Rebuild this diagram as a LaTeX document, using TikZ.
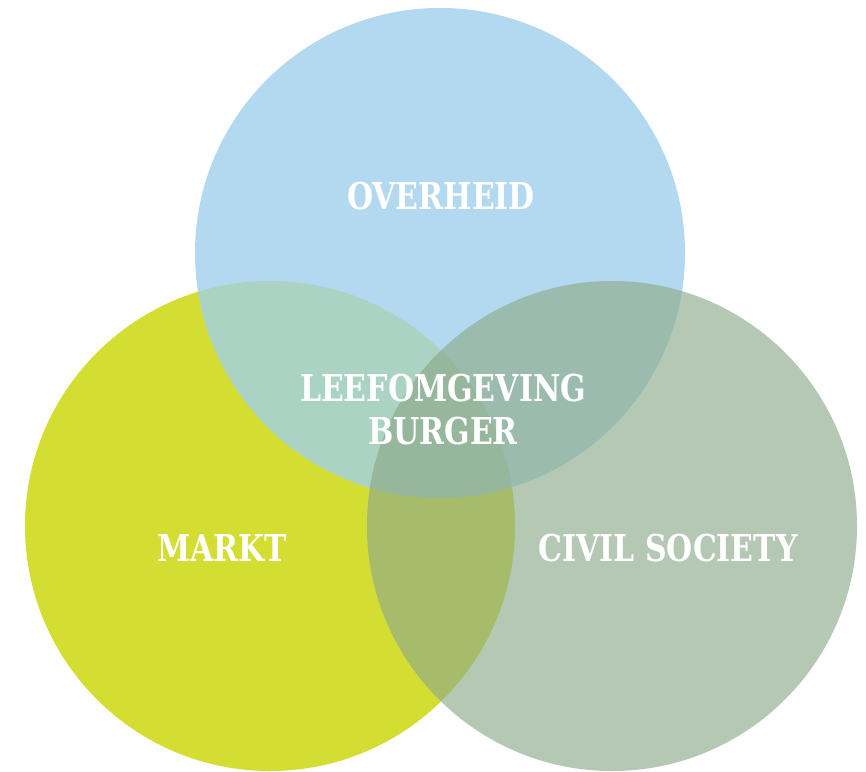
\documentclass[tikz,border=0pt]{standalone}
\usepackage{fontspec}
\setmainfont{DejaVu Serif}
\newfontfamily\labelfont[FakeStretch=0.9]{DejaVu Serif Condensed}
\definecolor{cblue}{HTML}{B3D9F0}
\definecolor{cyellow}{HTML}{D4DD31}
\definecolor{cgreen}{HTML}{B4C8B4}
\definecolor{cby}{HTML}{AAD3C4}
\definecolor{cbg}{HTML}{9ABBAE}
\definecolor{cyg}{HTML}{A7BC6B}
\definecolor{cbyg}{HTML}{97B79D}
\tikzset{lbl/.style={text=white,font=\labelfont\bfseries\fontsize{37}{43}\selectfont,align=center,inner sep=0pt}}
\begin{document}
\begin{tikzpicture}[x=1pt,y=-1pt]
\useasboundingbox (0,0) rectangle (866,771);
\def\R{245}
\coordinate (cb) at (440,253);
\coordinate (cy) at (270,526);
\coordinate (cg) at (612,526);
% single circles
\fill[cyellow] (cy) circle (\R);
\fill[cgreen] (cg) circle (\R);
\fill[cblue] (cb) circle (\R);
% pair overlaps
\begin{scope}
\clip (cb) circle (\R);
\fill[cby] (cy) circle (\R);
\fill[cbg] (cg) circle (\R);
\end{scope}
\begin{scope}
\clip (cy) circle (\R);
\fill[cyg] (cg) circle (\R);
\end{scope}
\begin{scope}
\clip (cb) circle (\R);
\clip (cy) circle (\R);
\fill[cbyg] (cg) circle (\R);
\end{scope}
\node[lbl] (overheid) at (441,196) {OVERHEID};
\node[lbl] (centre) at (443,410) {LEEFOMGEVING\\BURGER};
\node[lbl] (markt) at (222,548) {MARKT};
\node[lbl] (civil) at (668,548) {CIVIL SOCIETY};
\end{tikzpicture}
\end{document}
